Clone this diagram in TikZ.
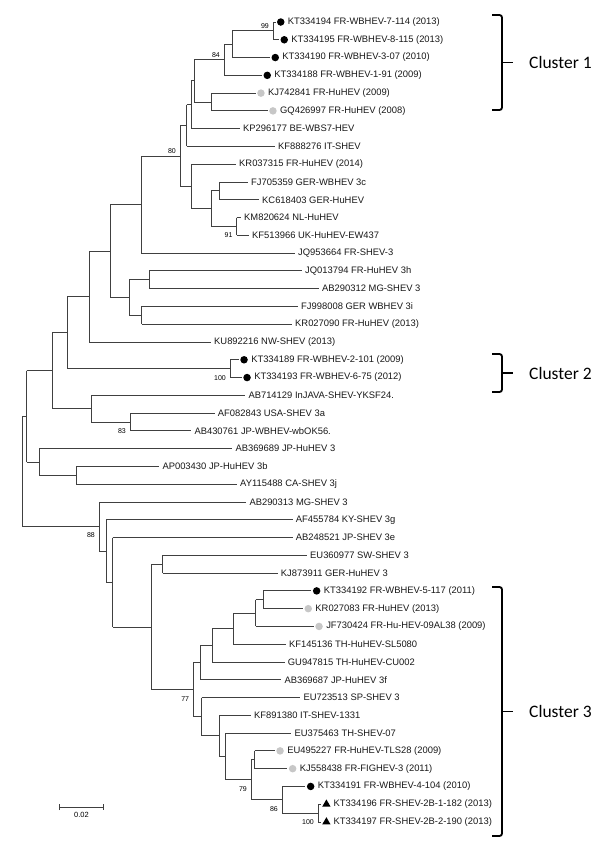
\documentclass[tikz,border=0pt]{standalone}
\usepackage{fontspec}
\setmainfont{Liberation Sans}
\newfontfamily\clusfont{Carlito}
\usetikzlibrary{calc,positioning,arrows.meta,shapes.geometric}

\begin{document}
\begin{tikzpicture}[x=1pt,y=-1pt,
    branch/.style={draw=black!75,line width=0.8pt},
    leaf/.style={anchor=west,inner sep=0pt,font=\fontsize{9.4pt}{11pt}\selectfont,text=black!90},
    wbdot/.style={circle,fill=black,inner sep=0pt,minimum size=7.5pt,xshift=5.25pt},
    hudot/.style={circle,fill=black!22,inner sep=0pt,minimum size=7.5pt,xshift=5.25pt},
    swtri/.style={regular polygon,regular polygon sides=3,fill=black,inner sep=0pt,minimum size=9.6pt,xshift=5.7pt},
    nomark/.style={inner sep=0pt,minimum size=0pt,xshift=-4pt},
    bsa/.style={anchor=east,inner sep=0pt,xshift=-4pt,yshift=4.5pt,font=\fontsize{7pt}{8pt}\selectfont},
    bsb/.style={anchor=east,inner sep=0pt,xshift=-4pt,yshift=-9pt,font=\fontsize{7pt}{8pt}\selectfont},
    brace/.style={draw=black,line width=1.8pt,rounded corners=2.5pt},
    clus/.style={anchor=west,inner sep=0pt,font=\clusfont\fontsize{17.5pt}{20pt}\selectfont}]

  \useasboundingbox[fill=white] (0,0) rectangle (600,849);

  % leaves: number / tip / marker / label
  \foreach \i/\tx/\mk/\lab in {
      1/275.5/wbdot/{KT334194 FR-WBHEV-7-114 (2013)},
      2/279/wbdot/{KT334195 FR-WBHEV-8-115 (2013)},
      3/270/wbdot/{KT334190 FR-WBHEV-3-07 (2010)},
      4/262/wbdot/{KT334188 FR-WBHEV-1-91 (2009)},
      5/255.7/hudot/{KJ742841 FR-HuHEV (2009)},
      6/267.7/hudot/{GQ426997 FR-HuHEV (2008)},
      7/240/nomark/{KP296177 BE-WBS7-HEV},
      8/275/nomark/{KF888276 IT-SHEV},
      9/236/nomark/{KR037315 FR-HuHEV (2014)},
      10/248/nomark/{FJ705359 GER-WBHEV 3c},
      11/259/nomark/{KC618403 GER-HuHEV},
      12/241/nomark/{KM820624 NL-HuHEV},
      13/249/nomark/{KF513966 UK-HuHEV-EW437},
      14/295/nomark/{JQ953664 FR-SHEV-3},
      15/302/nomark/{JQ013794 FR-HuHEV 3h},
      16/319/nomark/{AB290312 MG-SHEV 3},
      17/298/nomark/{FJ998008 GER WBHEV 3i},
      18/292/nomark/{KR027090 FR-HuHEV (2013)},
      19/211/nomark/{KU892216 NW-SHEV (2013)},
      20/238.8/wbdot/{KT334189 FR-WBHEV-2-101 (2009)},
      21/241.8/wbdot/{KT334193 FR-WBHEV-6-75 (2012)},
      22/245.3/nomark/{AB714129 InJAVA-SHEV-YKSF24.},
      23/214.7/nomark/{AF082843 USA-SHEV 3a},
      24/191.3/nomark/{AB430761 JP-WBHEV-wbOK56.},
      25/232.3/nomark/{AB369689 JP-HuHEV 3},
      26/159.3/nomark/{AP003430 JP-HuHEV 3b},
      27/237/nomark/{AY115488 CA-SHEV 3j},
      28/246.3/nomark/{AB290313 MG-SHEV 3},
      29/292.7/nomark/{AF455784 KY-SHEV 3g},
      30/292.7/nomark/{AB248521 JP-SHEV 3e},
      31/307/nomark/{EU360977 SW-SHEV 3},
      32/277.7/nomark/{KJ873911 GER-HuHEV 3},
      33/311.4/wbdot/{KT334192 FR-WBHEV-5-117 (2011)},
      34/303/hudot/{KR027083 FR-HuHEV (2013)},
      35/313.8/hudot/{JF730424 FR-Hu-HEV-09AL38 (2009)},
      36/286/nomark/{KF145136 TH-HuHEV-SL5080},
      37/284.7/nomark/{GU947815 TH-HuHEV-CU002},
      38/281.3/nomark/{AB369687 JP-HuHEV 3f},
      39/300.3/nomark/{EU723513 SP-SHEV 3},
      40/251/nomark/{KF891380 IT-SHEV-1331},
      41/291.3/nomark/{EU375463 TH-SHEV-07},
      42/274.8/hudot/{EU495227 FR-HuHEV-TLS28 (2009)},
      43/287.4/hudot/{KJ558438 FR-FIGHEV-3 (2011)},
      44/305.4/wbdot/{KT334191 FR-WBHEV-4-104 (2010)},
      45/320.7/swtri/{KT334196 FR-SHEV-2B-1-182 (2013)},
      46/320.7/swtri/{KT334197 FR-SHEV-2B-2-190 (2013)}} {
    \coordinate (t\i) at (\tx,{22+(\i-1)*17.7778});
    \node[\mk] (m\i) at (t\i) {};
    \node[leaf] (l\i) at ([xshift=7pt]m\i.center) {\lab};
  }

  % clades: name / x / upper child / lower child
  \foreach \nd/\px/\ca/\cb in {
      n99/273/t1/t2, nA/232/n99/t3, n84/224/nA/t4, nKJ/211/t5/t6,
      nB/194/n84/nKJ, nC/191/nB/t7, nD/186.5/nC/t8,
      nG/219/t10/t11, n91/236.7/t12/t13, nF/211/nG/n91, nE/191/t9/nF,
      n80/180/nD/nE, nH/141/n80/t14,
      nK/149/t15/t16, nL/141.7/t17/t18, nI/129.3/nK/nL, nJ/110/nH/nI,
      nM/89/nJ/t19, n100a/230/t20/t21, nN/67.3/nM/n100a,
      n83/130/t23/t24, nP/91.3/t22/n83, nO/52.3/nN/nP,
      nS/76/t26/t27, nR/39.3/t25/nS, nQ/26.7/nO/nR,
      nCC/263.3/t33/t34, nBB/255.7/nCC/t35, nAA/233.3/nBB/t36,
      nZ/212/nAA/t37, nX/200.7/nZ/t38,
      n100b/318/t45/t46, n86/282/t44/n100b, nGG/254.7/t42/t43,
      nFF/251/nGG/n86, nEE/225.3/t41/nFF, nDD/219/t40/nEE,
      nY/201.7/t39/nDD, n77/193.3/nX/nY,
      nW/162.7/t31/t32, nV/151.5/nW/n77, nU/112.7/t30/nV,
      nT/106.3/t29/nU, n88/99/t28/nT, root/22/nQ/n88} {
    \path let \p1=($(\ca)!.5!(\cb)$) in coordinate (\nd) at (\px pt,\y1);
    \draw[branch] (\nd |- \ca) -- (\ca) (\nd |- \cb) -- (\cb) (\nd |- \ca) -- (\nd |- \cb);
  }

  % bootstrap values
  \node[bsa] (b99) at (n99) {99};
  \node[bsa] (b84) at (n84) {84};
  \node[bsa] (b80) at (n80) {80};
  \node[bsb] (b91) at (n91) {91};
  \node[bsb] (b100a) at (n100a) {100};
  \node[bsb] (b83) at (n83) {83};
  \node[bsb] (b88) at (n88) {88};
  \node[bsb] (b77) at (n77) {77};
  \node[bsb] (b79) at (nFF) {79};
  \node[bsb] (b86) at (n86) {86};
  \node[bsb] (b100b) at (n100b) {100};

  % cluster braces
  \foreach \c/\yt/\yb in {1/15/110, 2/354/392, 3/587/836} {
    \coordinate (ct\c) at (502,\yt);
    \coordinate (cb\c) at (502,\yb);
    \coordinate (cm\c) at ($(ct\c)!.5!(cb\c)$);
    \coordinate (cp\c) at ([xshift=11pt]cm\c);
    \draw[brace] ([xshift=-10pt]ct\c) -- (ct\c) -- (cb\c) -- ([xshift=-10pt]cb\c);
    \draw[brace] (cm\c) -- (cp\c);
    \node[clus, right=27pt of cm\c] (cl\c) {Cluster \c};
  }

  % scale bar
  \coordinate (sbl) at (59,807);
  \coordinate (sbr) at (104,807);
  \coordinate (sbm) at ($(sbl)!.5!(sbr)$);
  \draw[branch,{Bar[width=6pt]}-{Bar[width=6pt]}] (sbl) -- (sbr);
  \node[inner sep=0pt,font=\fontsize{7.5pt}{9pt}\selectfont,below=5.5pt of sbm] (sbt) {0.02};
\end{tikzpicture}
\end{document}
